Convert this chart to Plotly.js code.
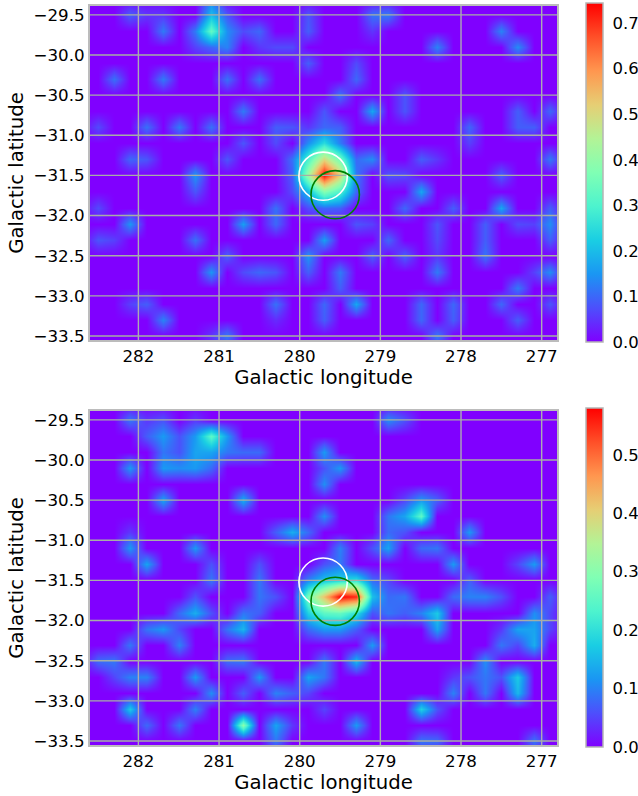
<!DOCTYPE html>
<html><head><meta charset="utf-8">
<script src="https://cdn.plot.ly/plotly-3.0.1.min.js"></script>
<style>html,body{margin:0;padding:0;background:#fff}</style></head>
<body><div id="chart" style="width:638px;height:796px"></div>
<script>
const lonTicks=[282,281,280,279,278,277];
const latTicks=[-29.5,-30,-30.5,-31,-31.5,-32,-32.5,-33,-33.5];
const lonRange=[282.6,276.81];
const latRange=[-33.55,-29.39];
const topMax=0.744, bottomMax=0.58;
const topBarTicks=[0,.1,.2,.3,.4,.5,.6,.7];
const bottomBarTicks=[0,.1,.2,.3,.4,.5];
const rainbow=[[0,'rgb(128,0,255)'],[.1,'rgb(77,79,252)'],[.2,'rgb(26,150,243)'],[.3,'rgb(26,206,227)'],[.4,'rgb(77,243,206)'],[.5,'rgb(128,255,180)'],[.6,'rgb(179,243,150)'],[.7,'rgb(230,206,116)'],[.8,'rgb(255,150,79)'],[.9,'rgb(255,79,40)'],[1,'rgb(255,0,0)']];
const topCircles=[[279.71,-31.51,.3,'#ffffff'],[279.56,-31.74,.3,'#008000']];
const bottomCircles=[[279.71,-31.52,.3,'#ffffff'],[279.56,-31.76,.3,'#008000']];
// [longitude, latitude, counts]
const topPeaks=[
[282.1,-29.5,.09],[281.9,-29.5,.05],[281.7,-29.5,.05],[281.7,-29.7,.12],[281.3,-29.7,.12],[281.3,-29.9,.06],
[281.1,-29.7,.33],[281.1,-29.5,.2],[281.1,-29.3,.12],[280.9,-29.5,.08],[280.9,-29.7,.14],[280.9,-29.9,.13],[281.1,-29.9,.1],
[280.5,-29.7,.1],[280.7,-29.7,.07],[280.1,-29.9,.07],[280.3,-29.9,.07],[280.5,-29.9,.05],[279.9,-29.7,.09],[279.9,-29.5,.08],[279.9,-30.1,.09],
[282.3,-30.3,.11],[281.7,-30.3,.12],[280.9,-30.3,.11],[280.5,-30.3,.11],[280.7,-30.7,.12],[282.5,-30.9,.07],[281.9,-30.9,.11],[281.5,-30.9,.12],
[281.1,-30.9,.11],[280.3,-30.9,.09],[280.1,-30.9,.08],[280.7,-31.1,.08],[282.1,-31.3,.1],[281.9,-31.3,.08],[280.9,-31.3,.08],[280.3,-31.1,.07],[280.1,-31.3,.07],
[279.7,-30.9,.1],[279.9,-30.9,.05],
[279.9,-31.1,.14],[279.7,-31.1,.25],[279.5,-31.1,.12],
[280.1,-31.3,.04],[279.9,-31.3,.3],[279.7,-31.3,.5],[279.5,-31.3,.35],[279.3,-31.3,.1],
[280.1,-31.5,.09],[279.9,-31.5,.42],[279.7,-31.5,.74],[279.5,-31.5,.52],[279.3,-31.5,.12],
[279.9,-31.7,.2],[279.7,-31.7,.38],[279.5,-31.7,.3],[279.3,-31.7,.1],
[279.9,-31.9,.07],[279.7,-31.9,.1],[279.5,-31.9,.09],
[278.9,-29.5,.12],[279.1,-29.5,.11],[279.1,-29.7,.05],[278.3,-29.9,.13],[277.5,-29.7,.13],[277.3,-29.9,.14],
[279.3,-30.1,.07],[279.3,-30.3,.1],[279.5,-30.5,.11],[279.1,-30.7,.17],[278.7,-30.5,.08],[278.7,-30.7,.08],[279.7,-30.7,.08],
[277.3,-30.7,.09],[276.9,-30.7,.1],[277.1,-30.9,.09],[277.3,-30.9,.09],[277.9,-30.9,.1],[277.9,-31.1,.06],[279.5,-30.9,.09],
[279.1,-31.3,.14],[278.5,-31.3,.09],[278.3,-31.3,.05],[276.9,-31.3,.12],
[278.5,-31.7,.17],[278.9,-31.5,.08],[278.7,-31.5,.07],[277.5,-31.5,.09],[277.5,-31.9,.17],[278.1,-31.9,.09],[278.7,-31.9,.1],[276.9,-31.9,.09],
[279.3,-32.1,.08],[279.1,-32.1,.06],[279.7,-32.3,.16],[278.3,-32.1,.08],[278.3,-32.3,.07],[277.7,-32.1,.09],[277.7,-32.3,.09],[277.3,-32.1,.07],[277.1,-32.1,.06],
[276.9,-32.1,.14],[276.9,-32.3,.09],[278.9,-32.3,.1],[278.7,-32.5,.09],[279.1,-32.5,.09],[277.7,-32.5,.11],[278.3,-32.7,.12],[278.3,-32.5,.05],
[279.5,-32.7,.12],[279.5,-32.9,.09],[276.9,-32.7,.14],[277.1,-32.7,.06],[277.3,-32.9,.12],[279.3,-33.1,.17],[278.5,-33.1,.1],[278.1,-33.1,.1],[279.7,-33.1,.1],
[277.5,-33.1,.1],[277.3,-33.3,.09],[276.9,-33.1,.08],[278.5,-33.3,.1],[279.7,-33.3,.09],[278.1,-33.3,.09],[278.3,-33.5,.12],
[281.3,-31.5,.15],[281.3,-31.7,.08],[280.7,-32.1,.16],[280.3,-31.9,.11],[280.3,-32.1,.1],[280.1,-31.7,.07],[282.1,-32.1,.15],[282.3,-32.3,.06],[282.5,-31.9,.07],
[281.3,-32.3,.11],[282.5,-32.3,.08],[281.1,-32.7,.15],[280.9,-32.5,.09],[280.5,-32.7,.1],[280.7,-32.7,.07],[280.3,-32.7,.08],[279.9,-32.5,.15],[279.9,-32.7,.09],
[282.1,-33.1,.06],[281.9,-33.1,.09],[280.3,-33.1,.11],[280.3,-33.3,.04],[281.7,-33.3,.13],[280.9,-33.5,.12],[281.1,-33.5,.05]
];
// [longitude, latitude, counts]
const bottomPeaks=[
[282.1,-29.5,.09],[281.7,-29.5,.06],[281.9,-29.5,.04],[281.7,-29.7,.12],[281.7,-29.9,.09],[281.9,-29.7,.07],
[281.3,-29.7,.12],[281.3,-29.9,.13],[281.5,-29.7,.06],[281.1,-29.7,.25],[281.1,-29.9,.13],[280.9,-29.7,.12],[280.9,-29.9,.09],[281.5,-29.9,.06],[281.3,-29.5,.04],
[280.7,-29.9,.08],[280.5,-29.9,.08],[282.1,-30.1,.12],[281.7,-30.1,.12],[281.3,-30.1,.12],[281.1,-30.1,.08],[281.5,-30.1,.11],
[281.7,-30.5,.13],[280.7,-30.5,.14],[279.7,-29.9,.12],[279.7,-30.3,.11],[279.7,-30.1,.06],[279.7,-30.7,.11],
[280.1,-30.9,.14],[280.3,-30.9,.07],[279.9,-30.9,.08],[282.1,-31.1,.12],[282.1,-30.9,.04],[281.3,-31.1,.12],[281.9,-31.3,.13],
[281.1,-31.3,.06],[281.1,-31.5,.09],[280.5,-31.3,.06],[280.5,-31.5,.09],
[278.9,-29.5,.11],[278.7,-29.5,.06],[279.5,-30.1,.12],[278.5,-30.7,.25],[278.7,-30.7,.13],[278.5,-30.5,.12],[278.3,-30.5,.07],[278.7,-30.5,.05],
[278.9,-30.7,.09],[278.9,-30.9,.08],[278.9,-31.1,.13],[278.7,-30.9,.06],[279.1,-31.1,.06],[277.9,-30.9,.12],[279.5,-31.1,.1],
[278.5,-31.1,.08],[278.3,-31.1,.09],[278.1,-31.3,.12],[277.1,-31.3,.12],[277.3,-31.3,.05],[277.9,-31.5,.07],
[279.7,-31.3,.06],[279.5,-31.3,.09],
[279.9,-31.5,.1],[279.7,-31.5,.16],[279.5,-31.5,.18],[279.3,-31.5,.2],[279.1,-31.5,.08],
[279.9,-31.7,.28],[279.7,-31.7,.42],[279.5,-31.7,.58],[279.3,-31.7,.55],[279.1,-31.7,.16],
[279.9,-31.9,.18],[279.7,-31.9,.25],[279.5,-31.9,.26],[279.3,-31.9,.2],[279.1,-31.9,.06],
[279.9,-32.1,.08],[279.7,-32.1,.12],[279.5,-32.1,.12],[279.3,-32.1,.07],
[281.3,-31.9,.14],[281.5,-31.9,.08],[281.3,-31.7,.06],[280.5,-31.7,.09],[280.3,-31.7,.06],[281.7,-32.1,.12],[281.9,-32.1,.09],[281.5,-32.3,.1],[281.5,-32.1,.05],
[281.1,-31.9,.06],[280.7,-32.1,.15],[280.9,-32.1,.09],[280.7,-31.9,.09],[280.5,-31.9,.07],[282.1,-32.3,.09],[282.3,-32.5,.09],[282.5,-32.5,.08],
[282.1,-32.7,.1],[282.3,-32.7,.05],[281.9,-32.7,.1],[281.3,-32.7,.12],[281.1,-32.9,.11],[280.9,-32.5,.08],[280.7,-32.5,.09],[280.5,-32.7,.12],[280.7,-32.9,.07],
[280.3,-32.9,.1],[280.1,-32.9,.07],[279.9,-32.7,.13],[279.7,-32.7,.09],[282.1,-33.1,.17],[281.9,-33.3,.08],[281.5,-33.3,.09],[281.3,-33.1,.1],
[280.7,-33.3,.3],[280.3,-33.3,.13],[280.3,-33.5,.09],[280.1,-33.3,.04],[279.9,-32.9,.05],[279.7,-32.5,.09],
[278.9,-31.5,.05],[278.7,-31.7,.09],[278.9,-31.7,.08],[278.9,-31.9,.09],[278.7,-31.9,.07],[278.3,-31.9,.17],[278.5,-31.9,.1],[278.3,-32.1,.13],
[277.9,-31.7,.1],[278.1,-31.7,.08],[277.7,-31.7,.1],[277.5,-31.7,.06],[277.1,-31.9,.11],[276.9,-31.9,.05],[277.3,-32.1,.13],[277.3,-32.3,.05],[277.5,-32.1,.04],
[277.1,-32.1,.13],[277.1,-32.3,.14],[276.9,-32.1,.05],[277.7,-32.5,.11],[277.5,-32.3,.09],[277.9,-32.7,.06],[277.7,-32.7,.09],[279.1,-32.3,.12],[279.3,-32.5,.15],
[278.1,-32.9,.1],[278.1,-32.7,.04],[277.3,-32.7,.17],[277.3,-32.9,.15],[277.5,-32.7,.06],[277.7,-32.9,.09],[278.5,-33.1,.18],[278.3,-33.1,.06],[279.3,-33.3,.12],
[279.7,-33.1,.05],[278.5,-33.5,.09],[278.3,-33.5,.08],[277.1,-33.5,.09],[276.9,-31.7,.07]
];
const font='"DejaVu Sans"';
function map(peaks,max,bar,barTop,barLen,ax,ay){
  return {type:'histogram2d',x:peaks.map(p=>p[0]),y:peaks.map(p=>p[1]),z:peaks.map(p=>p[2]),histfunc:'sum',
    xbins:{start:276.6,end:282.8,size:.2},ybins:{start:-33.8,end:-29.2,size:.2},zsmooth:'best',
    xaxis:ax,yaxis:ay,colorscale:rainbow,zmin:0,zmax:max,hoverinfo:'skip',
    colorbar:{x:586/638,xanchor:'left',xpad:0,y:barTop,yanchor:'top',ypad:0,len:barLen,thickness:17,
      tickvals:bar,ticktext:bar.map(v=>v.toFixed(1)),ticks:'outside',ticklen:6,tickcolor:'#ffffff',tickfont:{family:font,size:16.5,color:'#000'},
      outlinecolor:'#b5b5b5',outlinewidth:1.5}};
}
const data=[map(topPeaks,topMax,topBarTicks,1-3/796,339/796,'x','y'),map(bottomPeaks,bottomMax,bottomBarTicks,1-408/796,339/796,'x2','y2')];
function ax(domain,anchor,title,vals,range,fmt,stand){
  return {domain,anchor,range,tickmode:'array',tickvals:vals,ticktext:vals.map(fmt),showgrid:false,zeroline:false,
    showline:true,mirror:true,linecolor:'#bcbcbc',linewidth:2,ticks:'',ticklen:0,
    tickfont:{family:font,size:16.7,color:'#000'},title:{text:title,standoff:stand,font:{family:font,size:19.7,color:'#000'}}};
}
const fmtLon=v=>String(v), fmtLat=v=>'\u2212'+Math.abs(v).toFixed(1);
const shapes=[];
[['x','y',topCircles],['x2','y2',bottomCircles]].forEach(([xr,yr,circ])=>{
  lonTicks.forEach(v=>shapes.push({type:'line',xref:xr,yref:yr,x0:v,x1:v,y0:latRange[0],y1:latRange[1],layer:'above',line:{color:'#adaab4',width:1.4}}));
  latTicks.forEach(v=>shapes.push({type:'line',xref:xr,yref:yr,x0:lonRange[0],x1:lonRange[1],y0:v,y1:v,layer:'above',line:{color:'#a6aea6',width:1.4}}));
  circ.forEach(c=>shapes.push({type:'circle',xref:xr,yref:yr,x0:c[0]-c[2],x1:c[0]+c[2],y0:c[1]-c[2],y1:c[1]+c[2],layer:'above',line:{color:c[3],width:1.6}}));
});
const xd=[90/638,557/638];
const layout={width:638,height:796,margin:{l:0,r:0,t:0,b:0,autoexpand:false},paper_bgcolor:'#fff',plot_bgcolor:'#8000ff',showlegend:false,shapes,
  xaxis:ax(xd,'y','Galactic longitude',lonTicks,lonRange,fmtLon,4),
  yaxis:ax([1-340/796,1-6/796],'x','Galactic latitude',latTicks,latRange,fmtLat,5),
  xaxis2:ax(xd,'y2','Galactic longitude',lonTicks,lonRange,fmtLon,4),
  yaxis2:ax([1-745/796,1-411/796],'x2','Galactic latitude',latTicks,latRange,fmtLat,5)};
Plotly.newPlot('chart',data,layout,{displayModeBar:false,staticPlot:true});
</script></body></html>
